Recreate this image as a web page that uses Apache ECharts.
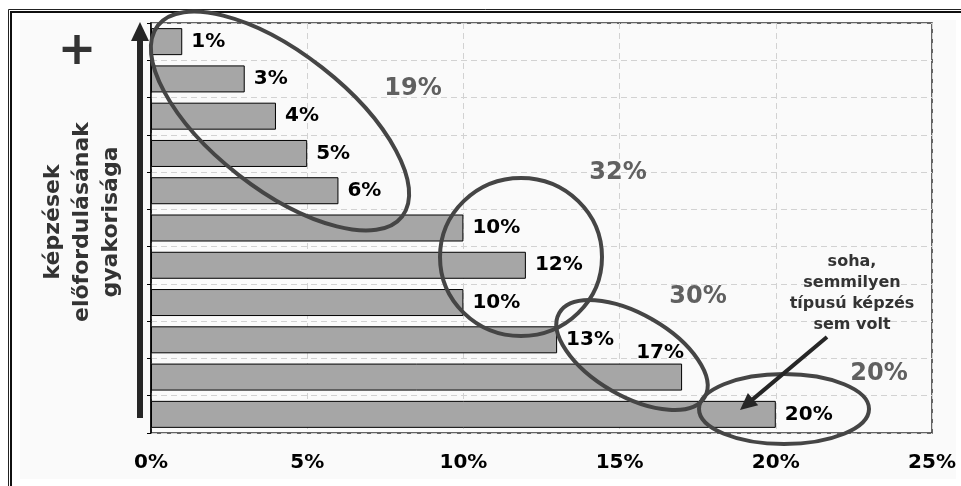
<!DOCTYPE html>
<html>
<head>
<meta charset="utf-8">
<script src="https://cdn.jsdelivr.net/npm/echarts@6/dist/echarts.min.js"></script>
<style>
  html, body { margin: 0; padding: 0; background: #ffffff; }
  #chart { width: 961px; height: 486px; }
</style>
</head>
<body>
<div id="chart"></div>
<script>
// Frequency rank of trainings (top = most frequent), share of respondents in %
const categories = ['1', '2', '3', '4', '5', '6', '7', '8', '9', '10', '11'];
const values = [1, 3, 4, 5, 6, 10, 12, 10, 13, 17, 20];
const xTicks = [0, 5, 10, 15, 20, 25];
// Summed shares of the circled groups
const groupShares = [19, 32, 30, 20];
const axisTitle = 'képzések\nelőfordulásának\ngyakorisága';
const noteText = 'soha,\nsemmilyen\ntípusú képzés\nsem volt';

const FONT = '"DejaVu Sans", Verdana, sans-serif';
const chart = echarts.init(document.getElementById('chart'), null, { renderer: 'canvas' });

const deg = Math.PI / 180;
const ringStyle = { fill: 'none', stroke: '#454545', lineWidth: 4 };

function ring(cx, cy, rx, ry, angle) {
  return {
    type: 'ellipse', z: 100, x: cx, y: cy, rotation: -angle * deg,
    shape: { cx: 0, cy: 0, rx: rx, ry: ry }, style: ringStyle, silent: true
  };
}
function share(text, cx, cy) {
  return {
    type: 'text', z: 101, x: cx, y: cy,
    style: {
      text: text, fill: '#606060', font: 'bold 24px ' + FONT,
      align: 'center', verticalAlign: 'middle'
    }
  };
}

// Arrow pointing at the last bar
const tip = [740, 410], tail = [827, 337];
const dx = tip[0] - tail[0], dy = tip[1] - tail[1];
const len = Math.sqrt(dx * dx + dy * dy);
const ux = dx / len, uy = dy / len, px = -uy, py = ux;
const headLen = 17, headHalf = 8;
const base = [tip[0] - ux * headLen, tip[1] - uy * headLen];

const option = {
  backgroundColor: '#ffffff',
  animation: false,
  grid: {
    left: 151, right: 29, top: 23, bottom: 53,
    show: true, borderColor: '#333', borderWidth: 1.5, backgroundColor: 'transparent'
  },
  xAxis: {
    type: 'value', min: xTicks[0], max: xTicks[xTicks.length - 1], interval: 5,
    axisLine: { show: false },
    axisTick: { show: false },
    axisLabel: {
      formatter: '{value}%', color: '#000', fontWeight: 'bold',
      fontSize: 20, fontFamily: FONT, margin: 20
    },
    splitLine: { show: true, lineStyle: { color: '#d2d2d2', type: [6, 4], width: 1 } }
  },
  yAxis: {
    type: 'category', data: categories, inverse: true,
    axisLine: { show: true, lineStyle: { color: '#000', width: 1.5 } },
    axisTick: { show: true, length: 4, lineStyle: { color: '#000' } },
    axisLabel: { show: false },
    splitLine: { show: true, lineStyle: { color: '#d2d2d2', type: [6, 4], width: 1 } }
  },
  series: [{
    type: 'bar',
    barWidth: 27,
    data: values.map(function (v) {
      const item = { value: v };
      if (v === 17) {
        // this label sits above its bar, right-aligned to the bar end
        item.label = { position: ['100%', 0], align: 'right', verticalAlign: 'bottom', offset: [2, -1] };
      }
      return item;
    }),
    itemStyle: { color: '#a6a6a6', borderColor: '#000', borderWidth: 1 },
    label: {
      show: true, position: 'right', distance: 9, formatter: '{c}%',
      color: '#000', fontWeight: 'bold', fontSize: 20, fontFamily: FONT
    }
  }],
  graphic: [
    // framed panel
    { type: 'rect', z: -10, shape: { x: 20, y: 20, width: 936, height: 459 }, style: { fill: '#fafafa' }, silent: true },
    { type: 'polyline', z: -5, shape: { points: [[8.5, 490], [8.5, 9.5], [965, 9.5]] }, style: { stroke: '#222', lineWidth: 1, fill: 'none' }, silent: true },
    { type: 'polyline', z: -5, shape: { points: [[11, 490], [11, 12], [965, 12]] }, style: { stroke: '#111', lineWidth: 2, fill: 'none' }, silent: true },

    // vertical frequency arrow with plus sign and title
    { type: 'rect', z: 50, shape: { x: 137, y: 38, width: 6, height: 380 }, style: { fill: '#262626' }, silent: true },
    { type: 'polygon', z: 50, shape: { points: [[140, 22], [131, 41], [149, 41]] }, style: { fill: '#262626' }, silent: true },
    {
      type: 'text', z: 50, x: 77, y: 52,
      style: { text: '+', fill: '#333', font: 'bold 46px ' + FONT, align: 'center', verticalAlign: 'middle' }
    },
    {
      type: 'text', z: 50, x: 82, y: 222, rotation: Math.PI / 2,
      style: {
        text: axisTitle, fill: '#333', font: 'bold 22px ' + FONT,
        align: 'center', verticalAlign: 'middle', lineHeight: 29
      }
    },

    // circled groups and their summed shares
    ring(280, 121, 155, 68, 38),
    ring(521, 257, 81, 79, 0),
    ring(632, 355, 84, 41, 30),
    ring(784, 409, 85, 35, 0),
    share(groupShares[0] + '%', 413, 89),
    share(groupShares[1] + '%', 618, 173),
    share(groupShares[2] + '%', 698, 297),
    share(groupShares[3] + '%', 879, 374),

    // note with arrow
    {
      type: 'text', z: 101, x: 852, y: 293,
      style: {
        text: noteText, fill: '#333', font: 'bold 16px ' + FONT,
        align: 'center', verticalAlign: 'middle', lineHeight: 21
      }
    },
    { type: 'line', z: 102, shape: { x1: tail[0], y1: tail[1], x2: base[0] + ux * 2, y2: base[1] + uy * 2 }, style: { stroke: '#262626', lineWidth: 4 }, silent: true },
    {
      type: 'polygon', z: 102,
      shape: { points: [tip, [base[0] + px * headHalf, base[1] + py * headHalf], [base[0] - px * headHalf, base[1] - py * headHalf]] },
      style: { fill: '#262626' }, silent: true
    }
  ]
};

chart.setOption(option);
</script>
</body>
</html>
